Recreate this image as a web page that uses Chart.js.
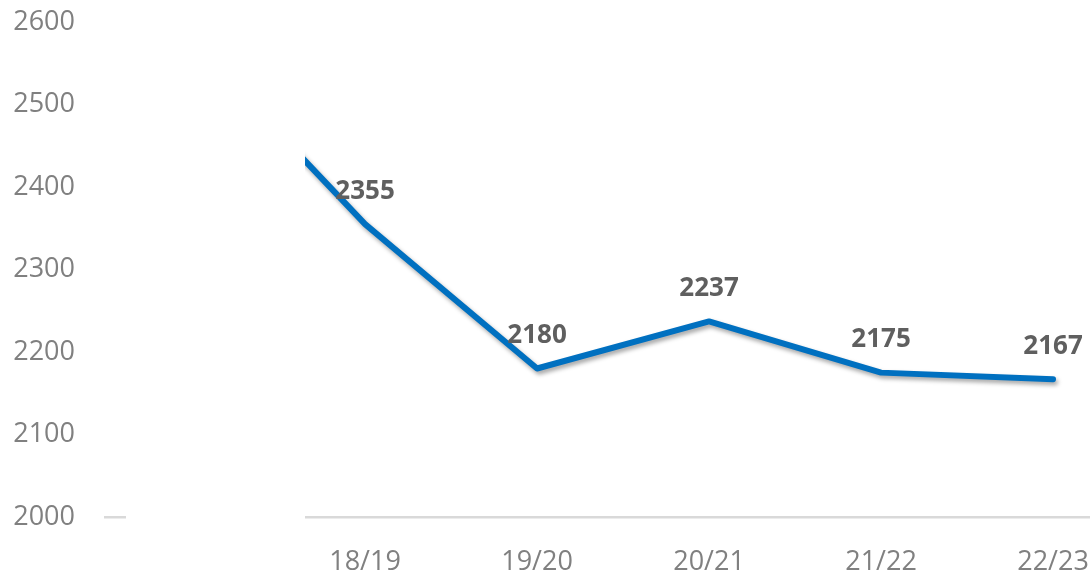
<!DOCTYPE html>
<html>
<head>
<meta charset="utf-8">
<script src="https://cdn.jsdelivr.net/npm/chart.js@4/dist/chart.umd.min.js"></script>
<style>
  html, body { margin: 0; padding: 0; background: #fff; }
  #wrap { width: 1090px; height: 576px; }
</style>
</head>
<body>
<div id="wrap"><canvas id="trend" width="1090" height="576"></canvas></div>
<script>
// season labels and values (first season sits behind the white panel)
const seasons = ['17/18', '18/19', '19/20', '20/21', '21/22', '22/23'];
const totals = [2575, 2355, 2180, 2237, 2175, 2167];
const yTicks = [2000, 2100, 2200, 2300, 2400, 2500, 2600];
const shownSeasons = [1, 2, 3, 4, 5];

const FONT = "'Open Sans', sans-serif";

// soft drop shadow under the line
const shadowPlugin = {
  id: 'lineShadow',
  beforeDatasetDraw(chart) {
    const ctx = chart.ctx;
    ctx.save();
    ctx.shadowColor = 'rgba(0, 0, 0, 0.35)';
    ctx.shadowBlur = 4;
    ctx.shadowOffsetX = 2;
    ctx.shadowOffsetY = 3;
  },
  afterDatasetDraw(chart) {
    chart.ctx.restore();
  }
};

// white panel over the left part of the plot, then the value labels
const overlayPlugin = {
  id: 'overlay',
  afterDatasetsDraw(chart) {
    const ctx = chart.ctx;
    const area = chart.chartArea;
    ctx.save();
    ctx.fillStyle = '#ffffff';
    ctx.fillRect(area.left + 21, 0, 305 - (area.left + 21), area.bottom + 4);

    ctx.font = "bold 26px " + FONT;
    ctx.fillStyle = '#5f5f5f';
    ctx.textAlign = 'center';
    ctx.textBaseline = 'middle';
    const meta = chart.getDatasetMeta(0);
    meta.data.forEach((pt, i) => {
      if (i === 0) return;
      ctx.fillText(String(totals[i]), pt.x, pt.y - 33);
    });
    ctx.restore();
  }
};

const ctx = document.getElementById('trend').getContext('2d');
new Chart(ctx, {
  type: 'line',
  data: {
    datasets: [{
      data: totals.map((v, i) => ({ x: i, y: v })),
      borderColor: '#0070C0',
      borderWidth: 6,
      borderCapStyle: 'round',
      borderJoinStyle: 'round',
      pointRadius: 0,
      tension: 0,
      fill: false
    }]
  },
  options: {
    responsive: false,
    devicePixelRatio: 1,
    animation: false,
    layout: { padding: { top: 22, right: 0, left: 0, bottom: 0 } },
    plugins: {
      legend: { display: false },
      tooltip: { enabled: false }
    },
    scales: {
      x: {
        type: 'linear',
        min: -0.512,
        max: 5.215,
        afterBuildTicks: s => { s.ticks = shownSeasons.map(v => ({ value: v })); },
        afterFit: s => { s.height = 59; s.paddingLeft = 0; s.paddingRight = 0; },
        grid: { display: false, drawTicks: false },
        border: { display: true, color: '#d9d9d9', width: 2.5 },
        ticks: {
          padding: 29,
          color: '#808080',
          font: { family: FONT, size: 27 },
          maxRotation: 0,
          autoSkip: false,
          callback: v => seasons[v]
        }
      },
      y: {
        min: 2000,
        max: 2600,
        afterBuildTicks: s => { s.ticks = yTicks.map(v => ({ value: v })); },
        afterFit: s => { s.width = 105; s.paddingTop = 0; s.paddingBottom = 0; },
        grid: { display: false, drawTicks: false },
        border: { display: false },
        ticks: {
          padding: 30,
          color: '#808080',
          font: { family: FONT, size: 27 },
          callback: v => String(v)
        }
      }
    }
  },
  plugins: [shadowPlugin, overlayPlugin]
});
</script>
</body>
</html>
